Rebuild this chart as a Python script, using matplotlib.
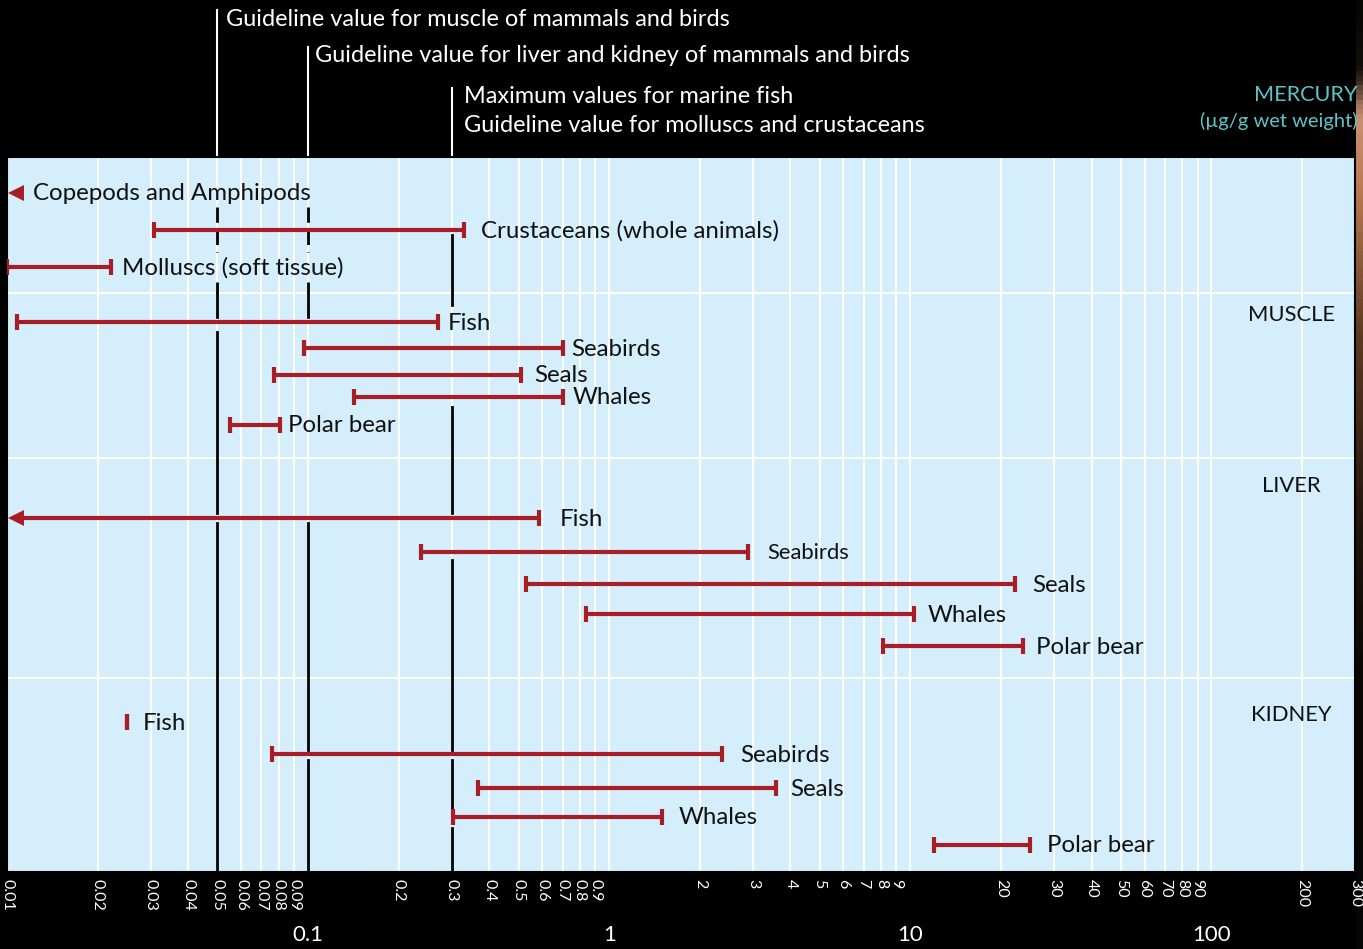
import numpy as np
import matplotlib
matplotlib.use('Agg')
import matplotlib.pyplot as plt
import matplotlib.transforms as mtransforms
from matplotlib.colors import LinearSegmentedColormap

plt.rcParams['font.family'] = ['Lato', 'DejaVu Sans']
plt.rcParams['lines.scale_dashes'] = False

# mercury, ug/g wet weight. nan lower value = below 0.01 (arrow)
invert_names = ['Copepods and Amphipods', 'Crustaceans (whole animals)', 'Molluscs (soft tissue)']
invert_lo = [np.nan, 0.0307, 0.01]
invert_hi = [np.nan, 0.33, 0.0222]

muscle_names = ['Fish', 'Seabirds', 'Seals', 'Whales', 'Polar bear']
muscle_lo = [0.0108, 0.097, 0.077, 0.142, 0.055]
muscle_hi = [0.27, 0.70, 0.51, 0.70, 0.0805]

liver_names = ['Fish', 'Seabirds', 'Seals', 'Whales', 'Polar bear']
liver_lo = [np.nan, 0.238, 0.53, 0.84, 8.1]
liver_hi = [0.585, 2.9, 22.2, 10.3, 23.7]

kidney_names = ['Fish', 'Seabirds', 'Seals', 'Whales', 'Polar bear']
kidney_lo = [0.025, 0.076, 0.367, 0.304, 12.0]
kidney_hi = [0.025, 2.37, 3.58, 1.50, 25.0]

section_names = ['MUSCLE', 'LIVER', 'KIDNEY']

guide_vals = [0.05, 0.1, 0.3]
guide_text = ['Guideline value for muscle of mammals and birds',
              'Guideline value for liver and kidney of mammals and birds',
              'Maximum values for marine fish\nGuideline value for molluscs and crustaceans']

# ---- layout (y in pixel rows of the figure, axis runs 157..872)
invert_y = [193, 230, 267]
muscle_y = [322, 348, 375, 397, 425]
liver_y = [518, 552, 584, 614, 646]
kidney_y = [722, 754, 788, 817, 845]
section_lines = [293, 458, 678]
section_label_y = [315, 486, 715]
invert_off = [26, 17, 11]
muscle_off = [10, 9, 13, 10, 8]
liver_off = [21, 19, 18, 14, 13]
kidney_off = [16, 18, 14, 16, 17]

# black guideline pieces inside the plot (dashed part = invertebrates)
guide_dashed = [[(207, 252), (282, 293)], [(207, 252), (282, 293)], []]
guide_solid = [[(293, 317), (332, 513), (523, 872)],
               [(293, 317), (523, 750), (760, 872)],
               [(235, 305), (407, 513), (560, 750), (760, 808), (828, 872)]]
guide_top = [10, 47, 88]
guide_text_y = [20, 56, 111]
guide_text_off = [9, 7, 12]

RED = '#a81e27'
BLUE = '#d4eefb'
W, H = 1363, 949

fig = plt.figure(figsize=(W / 100, H / 100), dpi=100, facecolor='black')

# bit of the background photo showing at the right edge
edge = fig.add_axes([1356 / W, 0, 7 / W, 1])
edge_cmap = LinearSegmentedColormap.from_list(
    'edge', [(0, '#050505'), (0.07, '#140e0a'), (0.12, '#c99272'), (0.2, '#b97a52'),
             (0.35, '#5e3a22'), (0.55, '#22160e'), (0.7, '#0a0806'), (1, '#050505')])
edge.imshow(np.linspace(0, 1, 200)[:, None], aspect='auto', cmap=edge_cmap)
edge.axis('off')

ax = fig.add_axes([7 / W, 77 / H, 1348 / W, 715 / H])
ax.set_facecolor(BLUE)
ax.set_xscale('log')
ax.set_xlim(0.01, 300)
ax.set_ylim(872, 157)
ax.set_yticks([])
for s in ax.spines.values():
    s.set_color('black')
    s.set_linewidth(1.5)

# ticks
minor_vals = []
for dec in [0.01, 0.1, 1, 10, 100]:
    for k in range(1, 10):
        v = dec * k
        if v > 300.0001:
            break
        if k == 1 and dec != 0.01:
            continue
        minor_vals.append(v)
minor_labels = [('%g' % v) for v in minor_vals]
ax.set_xticks([0.1, 1, 10, 100], ['0.1', '1', '10', '100'])
ax.set_xticks(minor_vals, minor_labels, minor=True)
ax.tick_params(axis='x', which='major', length=0, pad=38, labelsize=16, labelcolor='white')
ax.tick_params(axis='x', which='minor', length=0, pad=5, labelsize=11.5, labelcolor='white',
               labelrotation=270)
for t in ax.get_xticklabels(minor=True):
    t.set_verticalalignment('top')

ax.set_axisbelow(True)
ax.grid(axis='x', which='both', color='white', lw=1.5)
for yl in section_lines:
    ax.axhline(yl, color='white', lw=1.5, zorder=0.5)

# guideline lines
for v, dsh, sol, ty, tt, txy, toff in zip(guide_vals, guide_dashed, guide_solid, guide_top,
                                          guide_text, guide_text_y, guide_text_off):
    ax.plot([v, v], [ty, 157], color='white', lw=1.5, clip_on=False)
    for a, b in dsh:
        ax.plot([v, v], [a, b], color='black', lw=2, dashes=[11, 5], zorder=2)
    for a, b in sol:
        ax.plot([v, v], [a, b], color='black', lw=2, zorder=2)
    ax.annotate(tt, xy=(v, txy), xytext=(toff * 0.72, 0), textcoords='offset points',
                color='white', fontsize=16.9, va='center', ha='left', linespacing=1.45,
                annotation_clip=False)

arrow_tr = mtransforms.blended_transform_factory(ax.transAxes, ax.transData)


def draw_rows(names, lo, hi, ys, offs, fs=17.3):
    for name, a, b, y, off in zip(names, lo, hi, ys, offs):
        if np.isnan(a):
            ax.plot([9.3 / 1348], [y], marker='<', ms=12, color=RED, mew=0,
                    transform=arrow_tr, zorder=3)
            if not np.isnan(b):
                ax.hlines(y, 0.0105, b, color=RED, lw=3, zorder=3)
                ax.plot([b], [y], marker='|', ms=12, mew=3, color=RED, zorder=3)
                anchor = b
            else:
                anchor = 0.01
        else:
            ax.hlines(y, a, b, color=RED, lw=3, zorder=3)
            ax.plot([a, b], [y, y], ls='none', marker='|', ms=12, mew=3, color=RED, zorder=3)
            anchor = b
        size = fs[name] if isinstance(fs, dict) else fs
        ax.annotate(name, xy=(anchor, y + 1), xytext=(off * 0.72, 0), textcoords='offset points',
                    fontsize=size, va='center', ha='left', color='#111111')


draw_rows(invert_names, invert_lo, invert_hi, invert_y, invert_off)
draw_rows(muscle_names, muscle_lo, muscle_hi, muscle_y, muscle_off)
draw_rows(liver_names, liver_lo, liver_hi, liver_y, liver_off,
          fs={'Fish': 17.3, 'Seabirds': 15.8, 'Seals': 17.3, 'Whales': 17.3, 'Polar bear': 17.3})
draw_rows(kidney_names, kidney_lo, kidney_hi, kidney_y, kidney_off)

for name, y in zip(section_names, section_label_y):
    ax.text((1291 - 7) / 1348, y, name, transform=arrow_tr, ha='center', va='center',
            fontsize=15.8, color='#111111')

fig.text(1357 / W, 1 - 95 / H, 'MERCURY', color='#5ec3c7', fontsize=15.6, ha='right', va='center')
fig.text(1357 / W, 1 - 121 / H, '(µg/g wet weight)', color='#5ec3c7', fontsize=14.5,
         ha='right', va='center')

fig.savefig('out.png', dpi=100, facecolor='black')
